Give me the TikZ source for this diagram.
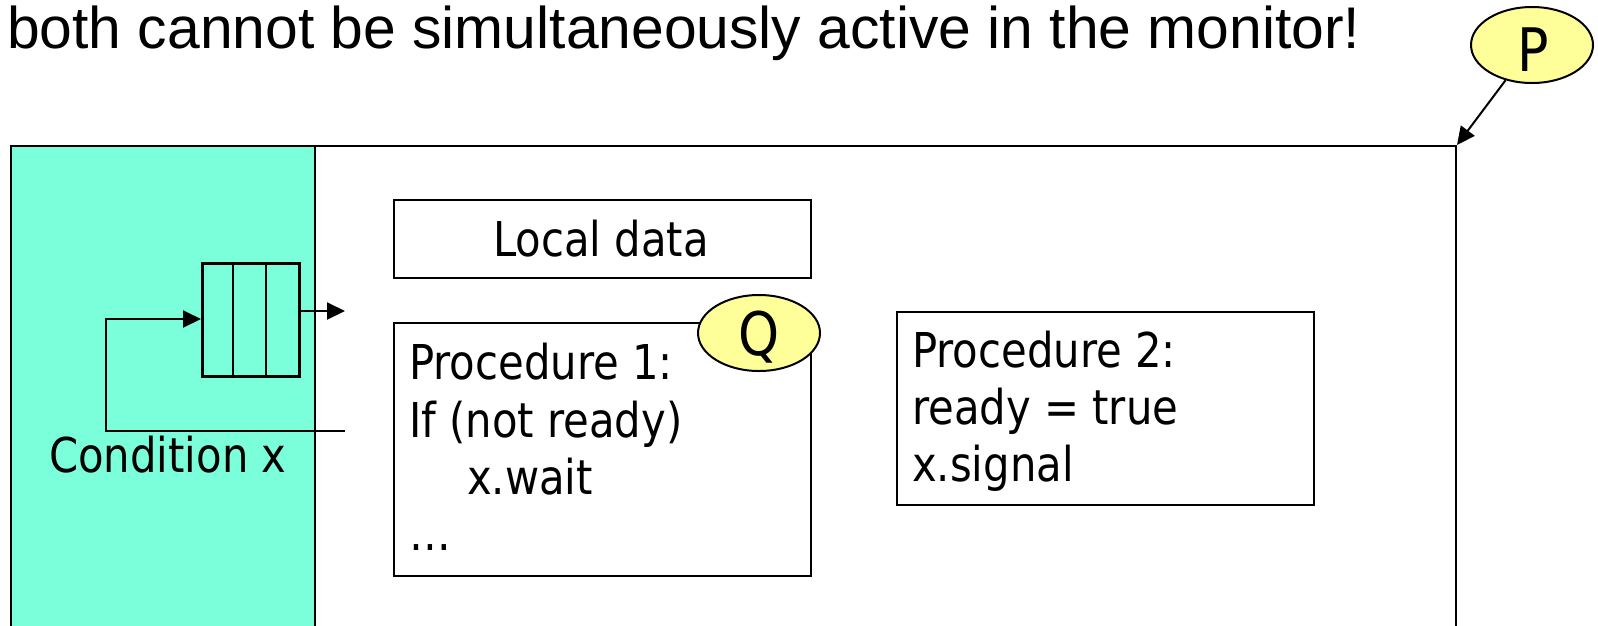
\documentclass[tikz,border=0pt]{standalone}
\usepackage{fontspec}
\setmainfont{Liberation Sans}
\newfontfamily\boxfont[FakeStretch=0.87]{DejaVu Sans}
\usetikzlibrary{arrows.meta,shapes.geometric}
\definecolor{condfill}{RGB}{122,255,218}
\definecolor{notefill}{RGB}{255,255,153}
\tikzset{
  box/.style={draw,line width=2pt,rectangle,inner sep=0pt,anchor=north west},
  label text/.style={anchor=base west,inner sep=0pt,font=\boxfont\fontsize{48pt}{57pt}\selectfont},
  tag/.style={ellipse,draw,line width=2pt,fill=notefill,inner sep=0pt,
    minimum width=122pt,minimum height=76pt},
  tag letter/.style={anchor=base,inner sep=0pt,font=\boxfont\fontsize{60pt}{66pt}\selectfont},
  flow/.style={line width=2pt,-{Triangle[length=18pt,width=17pt]}},
  plain/.style={line width=2pt}
}
\begin{document}
\begin{tikzpicture}[x=1pt,y=-1pt]
\useasboundingbox (0,0) rectangle (1598,625);
\clip (0,0) rectangle (1598,625);

% heading
\node[anchor=base west,inner sep=0pt,font=\fontsize{58.8pt}{66pt}\selectfont] (head) at (7,48)
  {both cannot be simultaneously active in the monitor!};

% monitor with its condition area
\node[box,fill=condfill,minimum width=304pt,minimum height=560pt] (cond) at (10,145) {};
\node[box,minimum width=1445pt,minimum height=560pt] (monitor) at (10,145) {};

% condition queue
\node[box,line width=2.5pt,minimum width=97pt,minimum height=113pt] (queue) at (201,262) {};
\draw[line width=2.5pt] ([xshift=32pt]queue.north west) -- ([xshift=32pt]queue.south west);
\draw[line width=2.5pt] ([xshift=65pt]queue.north west) -- ([xshift=65pt]queue.south west);
\coordinate (qout) at (345,311);
\coordinate (qin) at (345,431);
\coordinate (qturn) at (106,431);
\draw[flow] (queue.east |- qout) -- (qout);
\draw[flow] (qin) -- (qturn) -- (qturn |- 0,319) -- (queue.west |- 0,319);
\node[label text] (condlabel) at (49,472) {Condition x};

% local data
\node[box,minimum width=417pt,minimum height=78pt] (local) at (393,199) {};
\node[label text,anchor=base] (localtext) at (601,256) {Local data};

% procedure 1
\node[box,minimum width=417pt,minimum height=253pt] (proc1) at (393,322) {};
\node[label text] (p1a) at (409,379) {Procedure 1:};
\node[label text] (p1b) at (409,437) {If (not ready)};
\node[label text] (p1c) at (467,494) {x.wait};
\node[label text] (p1d) at (409,550) {…};
\node[tag] (Q) at (759,333) {};
\node[tag letter] (Qtext) at (759,355) {Q};

% procedure 2
\node[box,minimum width=417pt,minimum height=193pt] (proc2) at (896,311) {};
\node[label text] (p2a) at (912,367) {Procedure 2:};
\node[label text] (p2b) at (912,424) {ready = true};
\node[label text] (p2c) at (912,481) {x.signal};

% process outside the monitor
\node[tag] (P) at (1532,45) {};
\node[tag letter] (Ptext) at (1533,71) {P};
\draw[flow] (P) -- (monitor.north east);
\end{tikzpicture}
\end{document}
